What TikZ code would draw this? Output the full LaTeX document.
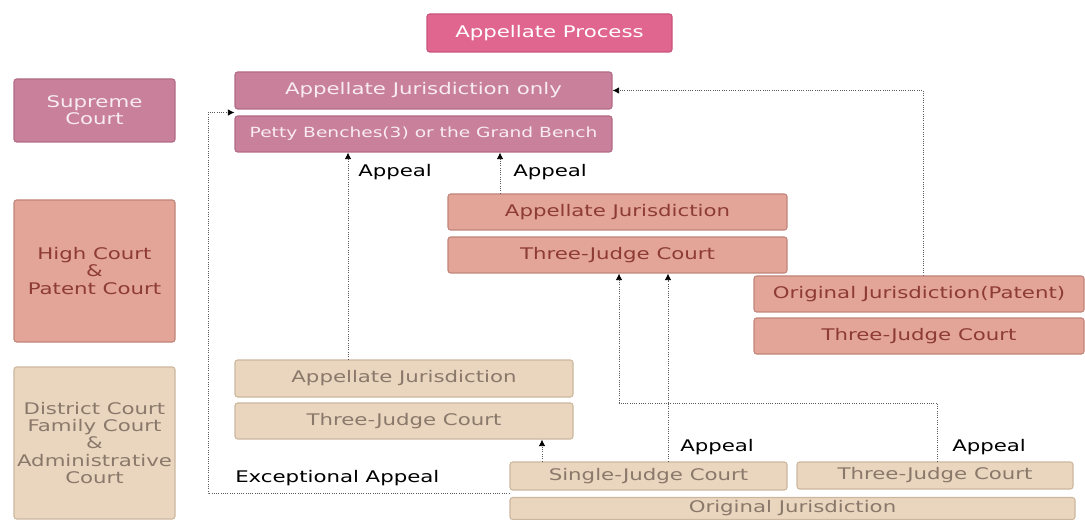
\documentclass[tikz,border=0pt]{standalone}
\usepackage{fontspec}
\setmainfont{DejaVu Sans}[FakeStretch=1.33]
\usetikzlibrary{arrows.meta,calc}

\definecolor{procfill}{HTML}{E06690}
\definecolor{procline}{HTML}{C85478}
\definecolor{supfill}{HTML}{C9809A}
\definecolor{supline}{HTML}{B26C85}
\definecolor{suptext}{HTML}{F8ECF1}
\definecolor{highfill}{HTML}{E2A598}
\definecolor{highline}{HTML}{C0847A}
\definecolor{hightext}{HTML}{8E3B36}
\definecolor{distfill}{HTML}{EAD6BF}
\definecolor{distline}{HTML}{CCB69E}
\definecolor{disttext}{HTML}{8A786A}
\definecolor{linkgray}{HTML}{5A5A5A}

\begin{document}
\begin{tikzpicture}[
    x=0.75pt, y=-0.75pt, % one unit per pixel, y runs down
    >={Latex[length=5pt,width=5pt,color=black]}, % Set default arrow tip style
    court/.style={draw, rounded corners=2pt, line width=0.8pt, inner sep=0pt,
        align=center, font=\fontsize{12}{13}\selectfont},
    boxsize/.style 2 args={minimum width=#1*0.75pt, minimum height=#2*0.75pt},
    proc/.style={court, fill=procfill, draw=procline, text=white},
    sup/.style={court, fill=supfill, draw=supline, text=suptext},
    high/.style={court, fill=highfill, draw=highline, text=hightext},
    dist/.style={court, fill=distfill, draw=distline, text=disttext},
    link/.style={->, densely dotted, line width=0.7pt, draw=linkgray}, % Style for the appeal routes
    appeal/.style={font=\fontsize{12}{13}\selectfont, inner sep=0pt, anchor=west}
]
\useasboundingbox (0,0) rectangle (1085,520);

% Title
\node[proc, boxsize={245}{38}] (process) at (549.5,33) {Appellate Process};

% Supreme Court row
\node[sup, boxsize={161}{63}] (supreme) at (94.5,110.5) {Supreme\\Court};
\node[sup, boxsize={377}{37}] (only) at (423.5,90.5) {Appellate Jurisdiction only};
\node[sup, boxsize={377}{36}, font=\fontsize{10.5}{12}\selectfont] (petty) at (423.5,134) {Petty Benches(3) or the Grand Bench};

% High Court row
\node[high, boxsize={161}{142}] (high) at (94.5,271) {High Court\\\&\\Patent Court};
\node[high, boxsize={339}{36}] (highapp) at (617.5,212) {Appellate Jurisdiction};
\node[high, boxsize={339}{36}] (highthree) at (617.5,255) {Three-Judge Court};
\node[high, boxsize={330}{36}] (patent) at (919,294) {Original Jurisdiction(Patent)};
\node[high, boxsize={330}{36}] (patentthree) at (919,336) {Three-Judge Court};

% District Court row
\node[dist, boxsize={161}{152}] (district) at (94.5,443) {District Court\\Family Court\\\&\\Administrative\\Court};
\node[dist, boxsize={338}{37}] (distapp) at (404,378.5) {Appellate Jurisdiction};
\node[dist, boxsize={338}{36}] (distthree) at (404,421) {Three-Judge Court};
\node[dist, boxsize={277}{28}] (single) at (648.5,476) {Single-Judge Court};
\node[dist, boxsize={276}{27}] (three) at (935,475.5) {Three-Judge Court};
\node[dist, boxsize={565}{22}] (original) at (792.5,508.5) {Original Jurisdiction};

% Appeals to the Supreme Court
\coordinate (a1) at (348,0);
\coordinate (a2) at (500,0);
\draw[link] (distapp.north -| a1) -- (petty.south -| a1);
\draw[link] (highapp.north -| a2) -- (petty.south -| a2);
\node[appeal] (appeal1) at (358,172) {Appeal};
\node[appeal] (appeal2) at (513,172) {Appeal};

% Patent route
\coordinate (a3) at (923,0);
\draw[link] (patent.north -| a3) |- (only.east);

% Appeals to the High Court
\coordinate (a4) at (668,0);
\coordinate (a5) at (619,0);
\coordinate (a6) at (937,0);
\coordinate (bend) at (0,403);
\draw[link] (single.north -| a4) -- (highthree.south -| a4);
\draw[link] (three.north -| a6) -- (bend -| a6) -- (bend -| a5) -- (highthree.south -| a5);
\node[appeal] (appeal3) at (680,447) {Appeal};
\node[appeal] (appeal4) at (952,447) {Appeal};

% Single judge to three judges
\coordinate (a7) at (542,0);
\draw[link] (single.north -| a7) -- (distthree.south -| a7);

% Exceptional Appeal
\coordinate (a8) at (208,0);
\coordinate (exfrom) at ($(single.south west)!0.5!(original.north west)$);
\coordinate (exto) at ($(only.south west)!0.5!(petty.north west)$);
\draw[link] (exfrom) -- (exfrom -| a8) -- (exto -| a8) -- (exto);
\node[appeal] (exlabel) at (235,478) {Exceptional Appeal};

\end{tikzpicture}
\end{document}
